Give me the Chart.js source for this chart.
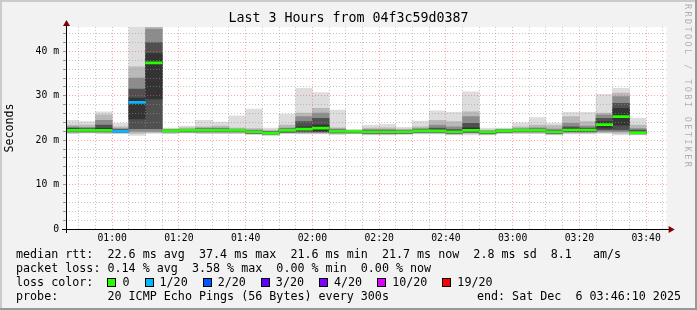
<!DOCTYPE html>
<html>
<head>
<meta charset="utf-8">
<title>Last 3 Hours from 04f3c59d0387</title>
<script src="https://cdn.jsdelivr.net/npm/chart.js@4.4.1/dist/chart.umd.min.js"></script>
<style>
  html, body { margin: 0; padding: 0; background: #f2f2f2; }
  #wrap { position: relative; width: 697px; height: 310px; overflow: hidden; }
  #chart-canvas { position: absolute; left: 0; top: 0; }
  .row {
    position: absolute; left: 16px; height: 14px; line-height: 14px;
    font: 11.7px 'DejaVu Sans Mono', monospace; color: #000; white-space: pre;
    display: flex; align-items: center;
  }
  .box { display: inline-block; width: 7px; height: 7px; border: 1px solid #000; margin-right: 6px; }
  .lbl { margin-right: 15px; }
  #end-text { position: absolute; right: 16px; top: 289px; height: 14px; line-height: 14px;
    font: 11.7px 'DejaVu Sans Mono', monospace; white-space: pre; }
  #watermark { position: absolute; left: 683px; top: 4px; writing-mode: vertical-rl;
    font: 8.5px 'DejaVu Sans Mono', monospace; letter-spacing: 2.4px; color: #b0b0b0; white-space: pre; }
</style>
</head>
<body>
<div id="wrap">
  <canvas id="chart-canvas" width="697" height="310"></canvas>
  <div class="row" style="top:247px">median rtt:  22.6 ms avg  37.4 ms max  21.6 ms min  21.7 ms now  2.8 ms sd  8.1   am/s</div>
  <div class="row" style="top:261px">packet loss: 0.14 % avg  3.58 % max  0.00 % min  0.00 % now</div>
  <div class="row" id="loss-row" style="top:275px">loss color:  </div>
  <div class="row" style="top:289px">probe:       20 ICMP Echo Pings (56 Bytes) every 300s</div>
  <div id="end-text">end: Sat Dec  6 03:46:10 2025</div>
  <div id="watermark">RRDTOOL / TOBI OETIKER</div>
</div>
<script>
/* -------------  DATA  ------------- */

const START_TIME = '00:46:10';
const END_TIME = '03:46:10';
const STEP_MIN = 5;

// end time of every 5-minute step
const binEnd = ['00:50', '00:55', '01:00', '01:05', '01:10', '01:15', '01:20', '01:25', '01:30', '01:35',
  '01:40', '01:45', '01:50', '01:55', '02:00', '02:05', '02:10', '02:15', '02:20', '02:25',
  '02:30', '02:35', '02:40', '02:45', '02:50', '02:55', '03:00', '03:05', '03:10', '03:15',
  '03:20', '03:25', '03:30', '03:35', '03:40'];

// smoke bands (ms), outer -> inner
const hi1 = [24.5, 24.2, 26.4, 23.8, 48, 60, 22.7, 23.2, 24.5, 24.1, 25.5, 27.0, 22.7, 25.9, 31.7, 30.7, 26.8, 22.4, 23.4, 23.6, 22.9, 24.3, 26.6, 26.3, 30.9, 22.7, 22.7, 23.9, 25.1, 23.8, 26.3, 26.3, 30.3, 31.7, 24.9];
const hi2 = [23.4, 23.4, 25.7, 23.0, 36.5, 52, 22.5, 22.8, 23.0, 23.2, 22.7, 22.6, 22.3, 23.4, 26.1, 27.2, 22.8, 22.3, 22.7, 22.8, 22.5, 23.0, 24.5, 24.2, 26.4, 22.3, 22.5, 23.0, 23.4, 23.3, 25.3, 24.2, 26.1, 30.6, 23.4];
const hi3 = [23.0, 22.9, 24.5, 22.6, 34.0, 45.0, 22.4, 22.5, 22.7, 22.7, 22.5, 22.3, 22.0, 22.7, 25.3, 26.1, 22.5, 22.2, 22.4, 22.4, 22.3, 22.6, 23.4, 23.0, 25.3, 22.1, 22.4, 22.6, 22.8, 22.5, 23.8, 23.2, 25.7, 29.8, 22.6];
const hi4 = [22.7, 22.6, 23.4, 22.4, 31.5, 42.0, 22.3, 22.4, 22.5, 22.5, 22.4, 22.1, 21.9, 22.5, 24.2, 24.9, 22.3, 22.1, 22.2, 22.2, 22.1, 22.4, 22.7, 22.4, 23.8, 22.0, 22.3, 22.4, 22.5, 22.2, 23.0, 22.7, 24.9, 28.3, 22.3];
const hi5 = [22.5, 22.4, 22.6, 22.2, 29.5, 39.5, 22.2, 22.3, 22.3, 22.3, 22.3, 22.0, 21.8, 22.3, 23.0, 23.4, 22.1, 22.05, 22.0, 22.0, 22.0, 22.2, 22.3, 22.1, 22.8, 21.9, 22.2, 22.3, 22.3, 22.0, 22.5, 22.5, 24.2, 27.2, 22.0];
const lo5 = [22.0, 22.0, 22.0, 21.9, 24.8, 29.3, 22.0, 22.0, 22.0, 22.0, 22.0, 21.7, 21.5, 22.0, 22.2, 22.0, 21.8, 21.8, 21.7, 21.7, 21.7, 21.9, 21.9, 21.7, 21.9, 21.6, 21.9, 22.0, 22.0, 21.7, 22.1, 22.1, 22.7, 23.4, 21.6];
const lo4 = [21.9, 21.9, 21.9, 21.8, 22.6, 22.6, 21.9, 21.9, 21.9, 21.9, 21.9, 21.6, 21.4, 21.8, 21.9, 21.9, 21.7, 21.7, 21.6, 21.6, 21.6, 21.8, 21.8, 21.6, 21.8, 21.5, 21.8, 21.9, 21.9, 21.6, 21.9, 21.9, 22.3, 22.3, 21.5];
const lo3 = [21.8, 21.8, 21.8, 21.7, 22.0, 22.0, 21.8, 21.8, 21.8, 21.8, 21.8, 21.5, 21.3, 21.7, 21.7, 21.7, 21.6, 21.6, 21.5, 21.5, 21.5, 21.7, 21.7, 21.5, 21.7, 21.4, 21.7, 21.8, 21.8, 21.5, 21.8, 21.8, 22.0, 21.9, 21.4];
const lo2 = [21.6, 21.7, 21.6, 21.6, 21.5, 21.7, 21.6, 21.7, 21.6, 21.6, 21.6, 21.4, 21.2, 21.6, 21.5, 21.5, 21.4, 21.5, 21.3, 21.3, 21.4, 21.5, 21.5, 21.3, 21.5, 21.3, 21.6, 21.6, 21.6, 21.3, 21.6, 21.6, 21.7, 21.5, 21.3];
const lo1 = [21.5, 21.6, 21.5, 21.5, 21.1, 21.5, 21.5, 21.6, 21.5, 21.5, 21.5, 21.3, 21.1, 21.5, 21.4, 21.4, 21.3, 21.4, 21.2, 21.2, 21.3, 21.4, 21.4, 21.2, 21.2, 21.2, 21.5, 21.5, 21.5, 21.2, 21.4, 21.4, 21.5, 21.2, 21.2];

const median = [22.2, 22.2, 22.2, 22.0, 28.5, 37.4, 22.1, 22.2, 22.2, 22.2, 22.2, 21.9, 21.6, 22.2, 22.5, 22.7, 22.0, 22.0, 21.9, 21.9, 21.9, 22.1, 22.1, 21.9, 22.2, 21.8, 22.1, 22.2, 22.2, 21.9, 22.3, 22.3, 23.5, 25.3, 21.7];
// lost pings out of 20
const loss = [0, 0, 0, 1, 1, 0, 0, 0, 0, 0, 0, 0, 0, 0, 0, 0, 0, 0, 0, 0, 0, 0, 0, 0, 0, 0, 0, 0, 0, 0, 0, 0, 0, 0, 0];

const lossSteps = [0, 1, 2, 3, 4, 10, 19];
const lossLabels = ['0', '1/20', '2/20', '3/20', '4/20', '10/20', '19/20'];
const lossColors = ['#26ff00', '#00b8ff', '#0059ff', '#5e00ff', '#7e00ff', '#dd00ff', '#ff0000'];

const xTickLabels = ['01:00', '01:20', '01:40', '02:00', '02:20', '02:40', '03:00', '03:20', '03:40'];
const yTickValues = [0, 10, 20, 30, 40];
const yTickLabels = ['0', '10 m', '20 m', '30 m', '40 m'];
const Y_MAX = 45.5;

/* -------------  HELPERS  ------------- */

function toMin(t) {
  const p = t.split(':').map(Number);
  return p[0] * 60 + p[1] + (p[2] || 0) / 60;
}

function lossColor(n) {
  let c = lossColors[0];
  lossSteps.forEach((s, i) => { if (n >= s) c = lossColors[i]; });
  return c;
}

const BAND_COLORS = ['#dddddd', '#b9b9b9', '#8c8c8c', '#505050', '#333333'];
const MEDIAN_HALF = 0.23;
const MINOR = 'rgba(150,150,150,0.55)';
const MAJOR = 'rgba(255,90,90,0.55)';

function bandDataset(lo, hi, color, order) {
  return {
    data: binEnd.map((t, i) => ({ x: toMin(t) - STEP_MIN / 2, y: [lo[i], hi[i]] })),
    backgroundColor: color,
    borderWidth: 0,
    grouped: false,
    barPercentage: 1,
    categoryPercentage: 1,
    order: order,
  };
}

function buildDatasets() {
  const bands = [[lo1, hi1], [lo2, hi2], [lo3, hi3], [lo4, hi4], [lo5, hi5]];
  const sets = bands.map((b, k) => bandDataset(b[0], b[1], BAND_COLORS[k], 10 - k));
  sets.push({
    data: binEnd.map((t, i) => ({ x: toMin(t) - STEP_MIN / 2, y: [median[i] - MEDIAN_HALF, median[i] + MEDIAN_HALF] })),
    backgroundColor: loss.map(lossColor),
    borderWidth: 0,
    grouped: false,
    barPercentage: 1,
    categoryPercentage: 1,
    order: 0,
  });
  return sets;
}

function fmtMin(v) {
  const h = Math.floor(v / 60), m = Math.round(v % 60);
  return String(h).padStart(2, '0') + ':' + String(m).padStart(2, '0');
}

/* -------------  FRAME PLUGIN  ------------- */

const rrdFrame = {
  id: 'rrdFrame',
  beforeDraw(chart) {
    const { ctx, width, height, chartArea: a } = chart;
    ctx.save();
    ctx.fillStyle = '#f2f2f2';
    ctx.fillRect(0, 0, width, height);
    ctx.fillStyle = '#cbcbcb';
    ctx.fillRect(0, 0, width, 2);
    ctx.fillRect(0, 0, 2, height);
    ctx.fillStyle = '#999999';
    ctx.fillRect(0, height - 2, width, 2);
    ctx.fillRect(width - 2, 0, 2, height);
    ctx.fillStyle = '#ffffff';
    ctx.fillRect(a.left, a.top, a.right - a.left, a.bottom - a.top);
    ctx.restore();
  },
  afterDraw(chart) {
    const { ctx, chartArea: a } = chart;
    const yb = Math.round(a.bottom);
    const xl = Math.round(a.left);
    ctx.save();
    ctx.fillStyle = '#000000';
    ctx.fillRect(xl - 4, yb, a.right - xl + 8, 1);
    ctx.fillRect(xl, a.top - 4, 1, yb - a.top + 8);
    ctx.fillStyle = '#7f0000';
    ctx.beginPath();
    ctx.moveTo(a.right + 2, yb - 3);
    ctx.lineTo(a.right + 8, yb + 0.5);
    ctx.lineTo(a.right + 2, yb + 4);
    ctx.closePath();
    ctx.fill();
    ctx.beginPath();
    ctx.moveTo(xl - 3, a.top - 1);
    ctx.lineTo(xl + 0.5, a.top - 7);
    ctx.lineTo(xl + 4, a.top - 1);
    ctx.closePath();
    ctx.fill();
    ctx.restore();
  },
};

/* -------------  LEGEND  ------------- */

function renderLossLegend() {
  const row = document.getElementById('loss-row');
  lossLabels.forEach((label, i) => {
    const box = document.createElement('span');
    box.className = 'box';
    box.style.background = lossColors[i];
    const txt = document.createElement('span');
    txt.className = 'lbl';
    txt.textContent = label;
    row.appendChild(box);
    row.appendChild(txt);
  });
}

/* -------------  CHART  ------------- */

function renderChart() {
  Chart.defaults.font.family = "'DejaVu Sans Mono', monospace";
  Chart.defaults.color = '#000';

  const xMin = toMin(START_TIME);
  const xMax = toMin(END_TIME);

  new Chart(document.getElementById('chart-canvas'), {
    type: 'bar',
    data: { datasets: buildDatasets() },
    options: {
      responsive: false,
      animation: false,
      devicePixelRatio: 1,
      layout: { padding: 0 },
      plugins: {
        legend: { display: false },
        tooltip: { enabled: false },
        title: {
          display: true,
          text: 'Last 3 Hours from 04f3c59d0387',
          color: '#000',
          font: { size: 13.3, weight: 'normal', family: "'DejaVu Sans Mono', monospace", lineHeight: 1.2 },
          padding: { top: 11, bottom: 0 },
        },
      },
      scales: {
        x: {
          type: 'linear',
          min: xMin,
          max: xMax,
          offset: false,
          afterBuildTicks: (scale) => {
            const ticks = [];
            for (let v = Math.ceil(xMin / STEP_MIN) * STEP_MIN; v < xMax; v += STEP_MIN) ticks.push({ value: v });
            scale.ticks = ticks;
          },
          afterFit: (scale) => { scale.height = 81; },
          grid: {
            offset: false,
            z: 1,
            drawTicks: false,
            color: (c) => (c.tick && xTickLabels.includes(fmtMin(c.tick.value)) ? MAJOR : MINOR),
          },
          border: { display: false, dash: [1, 2] },
          ticks: {
            autoSkip: false,
            maxRotation: 0,
            padding: 4,
            font: { size: 9.75 },
            callback: (v) => (xTickLabels.includes(fmtMin(v)) ? fmtMin(v) : ''),
          },
        },
        y: {
          min: 0,
          max: Y_MAX,
          afterBuildTicks: (scale) => {
            const ticks = [];
            for (let v = 0; v < Y_MAX; v += 2) ticks.push({ value: v });
            scale.ticks = ticks;
          },
          afterFit: (scale) => { scale.width = 66; },
          grid: {
            z: 1,
            drawTicks: true,
            tickLength: 3,
            tickColor: '#999',
            color: (c) => (c.tick && c.tick.value % 10 === 0 ? MAJOR : MINOR),
          },
          border: { display: false, dash: [1, 2] },
          ticks: {
            autoSkip: false,
            padding: 4,
            font: { size: 9.75 },
            callback: (v) => {
              const i = yTickValues.indexOf(v);
              return i >= 0 ? yTickLabels[i] : '';
            },
          },
          title: {
            display: true,
            text: 'Seconds',
            color: '#000',
            font: { size: 11.6, family: "'DejaVu Sans Mono', monospace" },
            padding: { top: 3, bottom: 0 },
          },
        },
        // empty right-hand margin (watermark strip), keeps the title centred on the full image
        yMargin: {
          position: 'right',
          min: 0,
          max: Y_MAX,
          afterFit: (scale) => { scale.width = 697 - 666.67; },
          grid: { display: false },
          border: { display: false },
          ticks: { display: false },
        },
      },
    },
    plugins: [rrdFrame],
  });
}

renderLossLegend();
renderChart();
</script>
</body>
</html>
